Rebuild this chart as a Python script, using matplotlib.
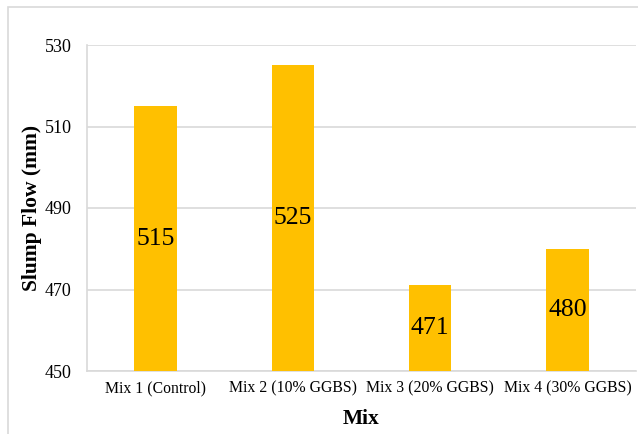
import matplotlib
matplotlib.use("Agg")
import matplotlib.pyplot as plt
from matplotlib.patches import Rectangle

# data
mixes = ["Mix 1 (Control)", "Mix 2 (10% GGBS)", "Mix 3 (20% GGBS)", "Mix 4 (30% GGBS)"]
slumpFlow = [515, 525, 471, 480]
yTicks = [450, 470, 490, 510, 530]

plt.rcParams['font.family'] = ['Liberation Serif', 'DejaVu Serif']

fig = plt.figure(figsize=(6.38, 4.34), dpi=100)
ax = fig.add_axes([87/638, 1-371/434, (636-87)/638, (371-45)/434])

# outer chart border
fig.patches.append(Rectangle((8/638, -0.05), 1.0, 1-7/434+0.05, transform=fig.transFigure,
                             fill=False, edgecolor='#D9D9D9', linewidth=1.2))

x = range(len(mixes))
bars = ax.bar(x, [v - yTicks[0] for v in slumpFlow], bottom=yTicks[0], width=0.31,
              color='#FFC000', zorder=3)

for xi, v in zip(x, slumpFlow):
    ax.text(xi, (yTicks[0] + v) / 2, str(v), ha='center', va='center', fontsize=18.5, zorder=4)

ax.set_ylim(yTicks[0], yTicks[-1])
ax.set_xlim(-0.5, len(mixes) - 0.5)
ax.set_yticks(yTicks)
ax.set_xticks(list(x))
ax.set_xticklabels(mixes, fontsize=11.3)
ax.tick_params(axis='y', labelsize=13, length=0, pad=11)
ax.tick_params(axis='x', length=0, pad=7)
ax.yaxis.grid(True, color='#D9D9D9', linewidth=1.2, zorder=0)

for side in ['top', 'right']:
    ax.spines[side].set_visible(False)
for side in ['left', 'bottom']:
    ax.spines[side].set_color('#D9D9D9')
    ax.spines[side].set_linewidth(1.2)

ax.set_ylabel("Slump Flow (mm)", fontsize=15.5, fontweight='bold', labelpad=2)
ax.set_xlabel("Mix", fontsize=15.5, fontweight='bold', labelpad=9)

fig.savefig("out.png", dpi=100)
